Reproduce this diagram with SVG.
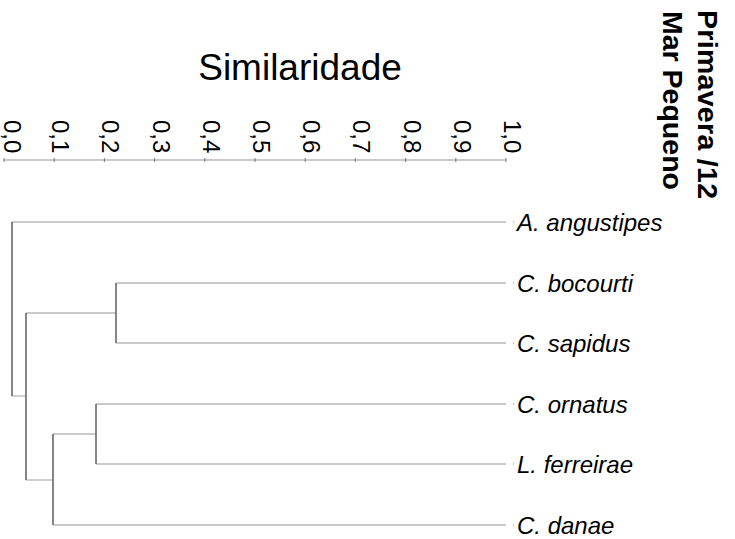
<svg xmlns="http://www.w3.org/2000/svg" width="735" height="539" viewBox="0 0 735 539">
  <style>
    .title { font-family: "Liberation Sans", Arial, sans-serif; font-size: 37px; fill: #000; }
    .tick-label { font-family: "Liberation Sans", Arial, sans-serif; font-size: 24px; fill: #000; }
    .heading { font-family: "Liberation Sans", Arial, sans-serif; font-size: 28.5px; font-weight: bold; fill: #000; }
    .leaf-label { font-family: "Liberation Sans", Arial, sans-serif; font-size: 24px; font-style: italic; fill: #000; }
    .h { stroke: #b8b8b8; stroke-width: 1.3; fill: none; }
    .v { stroke: #5e5e5e; stroke-width: 1.5; fill: none; }
    .axis { stroke: #b8b8b8; stroke-width: 1.3; fill: none; }
    .tick { stroke: #777; stroke-width: 1; }
    .dot { fill: #888; }
  </style>

  <rect width="735" height="539" fill="#fff"/>

  <!-- heading, rotated -->
  <g id="heading">
    <text class="heading" transform="translate(698,10) rotate(90)" textLength="189" lengthAdjust="spacing">Primavera /12</text>
    <text class="heading" transform="translate(663,11) rotate(90)">Mar Pequeno</text>
  </g>

  <!-- similarity scale -->
  <g id="scale">
    <text class="title" x="300" y="80" text-anchor="middle">Similaridade</text>
    <line class="axis" x1="4" y1="160" x2="506" y2="160"/>
    <g class="tick">
      <line x1="4" y1="158" x2="4" y2="162"/>
      <line x1="54.2" y1="158" x2="54.2" y2="162"/>
      <line x1="104.4" y1="158" x2="104.4" y2="162"/>
      <line x1="154.6" y1="158" x2="154.6" y2="162"/>
      <line x1="204.8" y1="158" x2="204.8" y2="162"/>
      <line x1="255" y1="158" x2="255" y2="162"/>
      <line x1="305.2" y1="158" x2="305.2" y2="162"/>
      <line x1="355.4" y1="158" x2="355.4" y2="162"/>
      <line x1="405.6" y1="158" x2="405.6" y2="162"/>
      <line x1="455.8" y1="158" x2="455.8" y2="162"/>
      <line x1="506" y1="158" x2="506" y2="162"/>
    </g>
    <text class="tick-label" transform="translate(4,120) rotate(90)">0,0</text>
    <text class="tick-label" transform="translate(52.2,120) rotate(90)">0,1</text>
    <text class="tick-label" transform="translate(102.4,120) rotate(90)">0,2</text>
    <text class="tick-label" transform="translate(152.6,120) rotate(90)">0,3</text>
    <text class="tick-label" transform="translate(202.8,120) rotate(90)">0,4</text>
    <text class="tick-label" transform="translate(253,120) rotate(90)">0,5</text>
    <text class="tick-label" transform="translate(303.2,120) rotate(90)">0,6</text>
    <text class="tick-label" transform="translate(353.4,120) rotate(90)">0,7</text>
    <text class="tick-label" transform="translate(403.6,120) rotate(90)">0,8</text>
    <text class="tick-label" transform="translate(453.8,120) rotate(90)">0,9</text>
    <text class="tick-label" transform="translate(504,120) rotate(90)">1,0</text>
  </g>

  <!-- dendrogram branches -->
  <g id="connectors">
    <!-- leaf branches -->
    <line class="h" x1="12" y1="222" x2="506" y2="222"/>
    <line class="h" x1="116" y1="283" x2="506" y2="283"/>
    <line class="h" x1="116" y1="343" x2="506" y2="343"/>
    <line class="h" x1="96" y1="404" x2="506" y2="404"/>
    <line class="h" x1="96" y1="464" x2="506" y2="464"/>
    <line class="h" x1="53" y1="525" x2="506" y2="525"/>
    <!-- internal branches -->
    <line class="h" x1="26" y1="313" x2="116" y2="313"/>
    <line class="h" x1="53" y1="434" x2="96" y2="434"/>
    <line class="h" x1="26" y1="480" x2="53" y2="480"/>
    <line class="h" x1="12" y1="396" x2="26" y2="396"/>
    <!-- joins -->
    <line class="v" x1="12" y1="222" x2="12" y2="396"/>
    <line class="v" x1="26" y1="313" x2="26" y2="480"/>
    <line class="v" x1="116" y1="283" x2="116" y2="343"/>
    <line class="v" x1="96" y1="404" x2="96" y2="464"/>
    <line class="v" x1="53" y1="434" x2="53" y2="525"/>
  </g>

  <!-- leaves -->
  <g id="leaf-a-angustipes">
    <rect class="dot" x="513" y="221.5" width="1" height="1"/>
    <text class="leaf-label" x="517" y="231">A. angustipes</text>
  </g>
  <g id="leaf-c-bocourti">
    <rect class="dot" x="513" y="282.5" width="1" height="1"/>
    <text class="leaf-label" x="517" y="292">C. bocourti</text>
  </g>
  <g id="leaf-c-sapidus">
    <rect class="dot" x="513" y="342.5" width="1" height="1"/>
    <text class="leaf-label" x="517" y="352">C. sapidus</text>
  </g>
  <g id="leaf-c-ornatus">
    <rect class="dot" x="513" y="403.5" width="1" height="1"/>
    <text class="leaf-label" x="517" y="413">C. ornatus</text>
  </g>
  <g id="leaf-l-ferreirae">
    <rect class="dot" x="513" y="463.5" width="1" height="1"/>
    <text class="leaf-label" x="517" y="473">L. ferreirae</text>
  </g>
  <g id="leaf-c-danae">
    <rect class="dot" x="513" y="524.5" width="1" height="1"/>
    <text class="leaf-label" x="517" y="534">C. danae</text>
  </g>
</svg>
